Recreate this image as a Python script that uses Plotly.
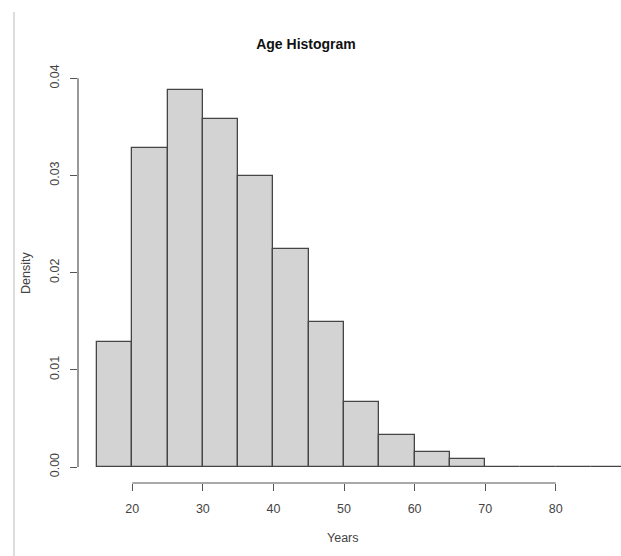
import plotly.graph_objects as go

# Histogram of ages: 5-year bins, density scale
bin_edges = [15, 20, 25, 30, 35, 40, 45, 50, 55, 60, 65, 70, 75, 80, 85, 90]
density = [0.01286, 0.03285, 0.03875, 0.03577, 0.02994, 0.02243, 0.01489,
           0.00672, 0.00329, 0.00154, 0.00079, 0.00004, 0.00002, 0.00001, 0.00001]

x_ticks = [20, 30, 40, 50, 60, 70, 80]
y_ticks = [0.00, 0.01, 0.02, 0.03, 0.04]
y_tick_text = ["0.00", "0.01", "0.02", "0.03", "0.04"]

mids = [(a + b) / 2 for a, b in zip(bin_edges[:-1], bin_edges[1:])]
widths = [b - a for a, b in zip(bin_edges[:-1], bin_edges[1:])]

FONT = "Liberation Sans, Arial, sans-serif"
W, H = 621, 556
ML, MR, MT, MB = 78, 0, 72, 73

fig = go.Figure()
fig.add_trace(go.Bar(
    x=mids, y=density, width=widths,
    marker=dict(color="#d3d3d3", line=dict(color="#454545", width=1.3)),
    hoverinfo="x+y",
))

# R-style axis lines that span only the tick range
axis_col = "#555555"
fig.add_shape(type="line", xref="x", yref="paper", x0=x_ticks[0], x1=x_ticks[-1],
              y0=0, y1=0, line=dict(color=axis_col, width=1.2))
fig.add_shape(type="line", xref="paper", yref="y", x0=0, x1=0,
              y0=y_ticks[0], y1=y_ticks[-1], line=dict(color=axis_col, width=1.2))
# thin frame line at the left edge of the page
pw = W - ML - MR
ph = H - MT - MB
fig.add_shape(type="line", xref="paper", yref="paper",
              x0=(14 - ML) / pw, x1=(14 - ML) / pw,
              y0=(H - MB - 12) / ph, y1=-(MB) / ph,
              line=dict(color="#dddddd", width=2))

fig.update_layout(
    width=W, height=H,
    margin=dict(l=ML, r=MR, t=MT, b=MB),
    paper_bgcolor="white", plot_bgcolor="white",
    showlegend=False, bargap=0,
    font=dict(family=FONT, size=12, color="#444444"),
    title=dict(text="<b>Age Histogram</b>", x=306 / W, xanchor="center",
               y=1 - 44 / H, yanchor="middle",
               font=dict(family=FONT, size=14, color="#111111")),
    xaxis=dict(range=[12.305, 89.25], tickvals=x_ticks, ticks="outside", ticklen=7,
               tickcolor=axis_col, tickwidth=1.2, showgrid=False, zeroline=False,
               showline=False, ticklabelstandoff=7,
               tickfont=dict(family=FONT, size=12.5, color="#444444")),
    yaxis=dict(range=[-0.001647, 0.040648], tickvals=y_ticks, ticktext=y_tick_text,
               ticks="outside", ticklen=7, tickcolor=axis_col, tickwidth=1.2,
               tickangle=-90, showgrid=False, zeroline=False, showline=False,
               ticklabelstandoff=6,
               tickfont=dict(family=FONT, size=12.5, color="#444444")),
    annotations=[
        dict(text="Years", xref="paper", yref="paper", x=(343 - ML) / pw,
             y=-(538 - (H - MB)) / ph, xanchor="center", yanchor="middle",
             showarrow=False, font=dict(family=FONT, size=12.5, color="#444444")),
        dict(text="Density", xref="paper", yref="paper", x=-(ML - 26) / pw,
             y=(H - MB - 273) / ph, xanchor="center", yanchor="middle",
             textangle=-90, showarrow=False,
             font=dict(family=FONT, size=12.5, color="#444444")),
    ],
)

fig.write_html("out.html")
